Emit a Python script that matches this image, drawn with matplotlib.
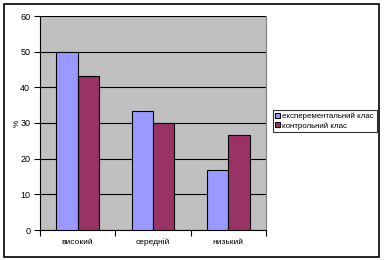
import matplotlib
matplotlib.use("Agg")
import matplotlib.pyplot as plt
import numpy as np
from matplotlib.patches import Rectangle
from matplotlib.transforms import blended_transform_factory

categories = ["високий", "середній", "низький"]
exp_vals = [50, 33.3, 16.7]
ctrl_vals = [43.3, 30, 26.7]
series_names = ["експерементальний клас", "контрольний клас"]
yticks = [0, 10, 20, 30, 40, 50, 60]

plt.rcParams['font.family'] = ['Liberation Sans', 'DejaVu Sans']

W, H = 384, 260
fig = plt.figure(figsize=(W/100, H/100), dpi=100)
fig.patch.set_facecolor('white')
fig.patches.append(Rectangle((3.5/W, 3.5/H), (379-3.5)/W, (256.5-3.5)/H, transform=fig.transFigure,
                             fill=False, edgecolor='black', linewidth=1.2))

left, right, top, bottom = 40, 266, 16, 230
ax = fig.add_axes([left/W, 1-bottom/H, (right-left)/W, (bottom-top)/H])
ax.set_facecolor('#C0C0C0')
x = np.arange(len(categories))
bw = 0.285
ax.bar(x - bw/2, exp_vals, bw, color='#9999FF', edgecolor='black', linewidth=0.8, label=series_names[0], zorder=3)
ax.bar(x + bw/2, ctrl_vals, bw, color='#993366', edgecolor='black', linewidth=0.8, label=series_names[1], zorder=3)
ax.set_xlim(-0.5, 2.5)
ax.set_ylim(0, 60)
ax.set_yticks(yticks)
ax.yaxis.grid(True, color='black', linewidth=0.8, zorder=1)
ax.set_axisbelow(True)
ax.set_xticks([-0.5, 0.5, 1.5, 2.5])
ax.set_xticklabels([])
trans = blended_transform_factory(ax.transData, ax.transAxes)
for xi, c in zip(x, categories):
    ax.text(xi, -14.5/214, c, transform=trans, ha='center', va='baseline', fontsize=6)
ax.tick_params(axis='x', which='major', length=4, direction='out', width=0.8)
ax.tick_params(axis='y', length=4, direction='out', width=0.8, labelsize=6.5, pad=3)
ax.spines['top'].set_visible(False)
ax.spines['right'].set_color('#808080')
ax.spines['left'].set_linewidth(0.8)
ax.spines['bottom'].set_linewidth(0.8)
fig.text(17/W, 1-123/H, '%', fontsize=6, rotation=90, ha='center', va='center')

leg = fig.legend(loc='upper left', bbox_to_anchor=(273/W, 1-110/H), fontsize=5.7,
                 frameon=True, fancybox=False, edgecolor='black', handlelength=0.6, handleheight=0.6,
                 handletextpad=0.3, borderpad=0.3, labelspacing=0.3, borderaxespad=0)
leg.get_frame().set_linewidth(0.8)

fig.savefig('out.png', dpi=100)
